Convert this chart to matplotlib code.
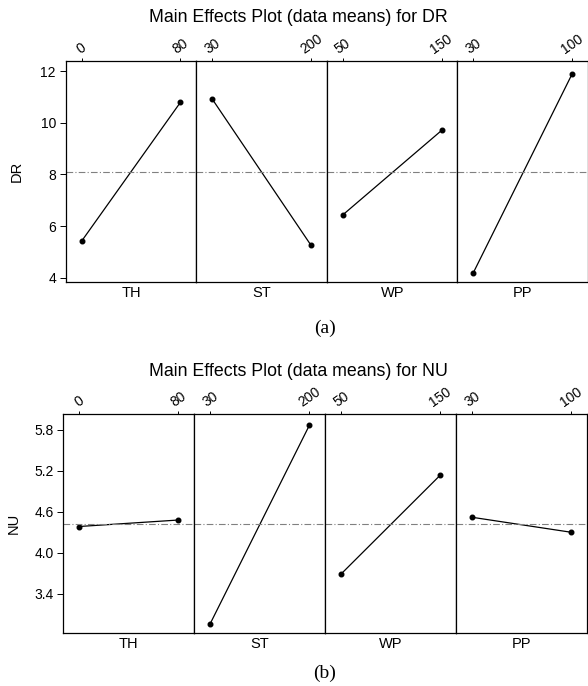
import matplotlib
matplotlib.use("Agg")
from matplotlib import pyplot as plt

factors = ["TH", "ST", "WP", "PP"]
levels = [[0, 80], [30, 200], [50, 150], [30, 100]]

dr_means = [[5.41, 10.80], [10.93, 5.25], [6.43, 9.71], [4.19, 11.91]]
dr_grand = 8.08
dr_ticks = [4, 6, 8, 10, 12]

nu_means = [[4.385, 4.48], [2.96, 5.87], [3.69, 5.14], [4.52, 4.30]]
nu_grand = 4.42
nu_ticks = [3.4, 4.0, 4.6, 5.2, 5.8]

plt.rcParams['font.family'] = ['Liberation Sans', 'DejaVu Sans']

W, H = 588, 686
fig = plt.figure(figsize=(W / 100, H / 100), dpi=100)


def block(left, width, top, bottom, means, grand, ticks, ylim, fmt, ylabel, lpad):
    axes = []
    for i, (name, lv, m) in enumerate(zip(factors, levels, means)):
        x0 = left + i * width
        ax = fig.add_axes([x0 / W, 1 - bottom / H, width / W, (bottom - top) / H])
        ax.plot([1, 2], m, color='black', lw=0.9, marker='o', ms=3.3)
        ax.axhline(grand, color='#808080', lw=0.8, ls=(0, (6, 2, 1, 2)))
        ax.set_xlim(0.84, 2.16)
        ax.set_ylim(*ylim)
        ax.xaxis.tick_top()
        ax.set_xticks([1, 2])
        ax.set_xticklabels([str(v) for v in lv], rotation=35, fontsize=10,
                           ha='center', va='bottom')
        ax.tick_params(axis='x', length=2, pad=1, width=0.7)
        ax.set_xlabel(name, fontsize=10.5, labelpad=3)
        ax.xaxis.set_label_position('bottom')
        for s in ax.spines.values():
            s.set_linewidth(0.9)
        if i == 0:
            ax.set_yticks(ticks)
            ax.set_yticklabels([fmt.format(t) for t in ticks], fontsize=10)
            ax.tick_params(axis='y', length=4, width=0.7, pad=3)
            ax.set_ylabel(ylabel, fontsize=10.5, labelpad=lpad)
        else:
            ax.set_yticks([])
        axes.append(ax)
    return axes


block(65.7, 130.6, 61, 282, dr_means, dr_grand, dr_ticks, (3.83, 12.40), "{:g}", "DR", 12)
block(63.3, 131.0, 414, 633, nu_means, nu_grand, nu_ticks, (2.824, 6.034), "{:.1f}", "NU", 10)

fig.text(298 / W, 1 - 17 / H, "Main Effects Plot (data means) for DR",
         ha='center', va='center', fontsize=12.8)
fig.text(298 / W, 1 - 372 / H, "Main Effects Plot (data means) for NU",
         ha='center', va='center', fontsize=12.8)
fig.text(325 / W, 1 - 328 / H, "(a)", ha='center', va='center', fontsize=14,
         family=['Liberation Serif', 'DejaVu Serif'])
fig.text(325 / W, 1 - 673 / H, "(b)", ha='center', va='center', fontsize=14,
         family=['Liberation Serif', 'DejaVu Serif'])

fig.savefig("out.png", dpi=100)
